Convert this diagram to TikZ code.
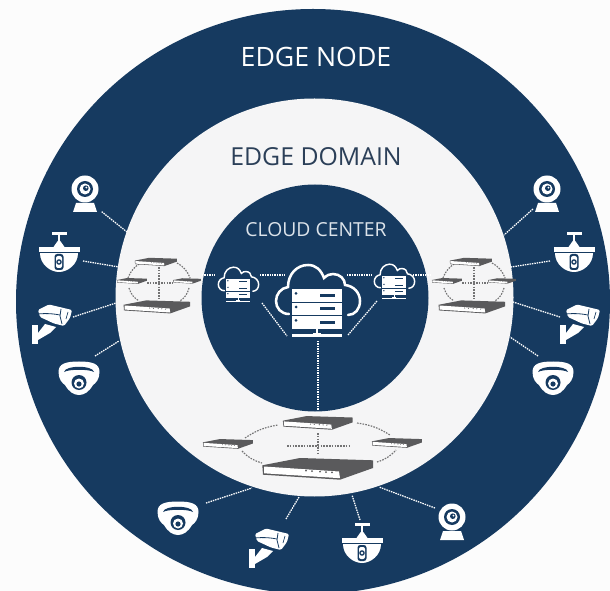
\documentclass[tikz,border=0pt]{standalone}
\usepackage{fontspec}
\setmainfont{Open Sans}
\usepackage{xcolor}
\usepackage{tikz}
\definecolor{navy}{HTML}{163A60}
\definecolor{shell}{HTML}{F5F5F6}
\definecolor{devgray}{HTML}{5A5A5C}
\definecolor{domaintext}{HTML}{2B3F58}
\definecolor{cloudtext}{HTML}{DCE3EA}
\tikzset{
	link/.style={draw=white,line width=0.95pt,dash pattern=on 1.1pt off 0.7pt},
	ringline/.style={draw=devgray!85,line width=0.85pt,dash pattern=on 1.2pt off 0.9pt},
	title/.style={inner sep=0pt},
	pics/webcam/.style={code={
		\fill[white] (0,0) circle [radius=13.5];
		\fill[navy] (0,0) circle [radius=8];
		\fill[white] (0,0) circle [radius=5.5];
		\fill[navy] (0.8,-0.8) circle [radius=2.8];
		\fill[white] (1.4,-1.4) circle [radius=1];
		\fill[white] (-9,14) -- (9,14) -- (12,23) -- (-12,23) -- cycle;
	}},
	pics/domecam/.style={code={
		\fill[white] (-7.5,-18) rectangle (7.5,-15);
		\fill[white] (-1.3,-15) rectangle (1.3,-8);
		\fill[white] (-5.5,-3) -- (-1.3,-9) -- (1.3,-9) -- (5.5,-3) -- cycle;
		\fill[white] (-20.5,-3) rectangle (20.5,2);
		\fill[white] (-19,3.2) .. controls (-19,14) and (-9,22) .. (0,22) .. controls (9,22) and (19,14) .. (19,3.2) -- cycle;
		\fill[navy,rounded corners=2] (-4.5,4) rectangle (4.5,20);
		\fill[white,rounded corners=1.5] (-3,6) rectangle (3,18);
		\fill[navy] (0,12) circle [radius=2.8];
		\fill[white] (0,12) circle [radius=1.4];
	}},
	pics/bulletcam/.style={code={
		\fill[white] (-21,10) rectangle (-15,29);
		\fill[white] (-15,18) -- (-8,9) -- (3,12) -- (-3,18) -- (-15,25) -- cycle;
		\fill[white,rounded corners=1] (-15,-5) -- (-4,-10.5) -- (19,-5) -- (17,3) -- (11,11) -- (1,8.5) -- (-13,2) -- cycle;
		\draw[navy,line width=0.6pt] (-15,-1) .. controls (-6,-2) and (2,-1) .. (7,0);
		\draw[navy,line width=0.6pt] (8,-6) -- (7,1) -- (9,9);
		\draw[navy,line width=0.5pt] (15,-3) -- (13,4);
	}},
	pics/turretcam/.style={code={
		\fill[white] (-20.5,-6) .. controls (-20.5,-14) and (-14,-16.5) .. (0,-16.5) .. controls (14,-16.5) and (20.5,-14) .. (20.5,-6)
			.. controls (20.5,1) and (17,5) .. (14,7) .. controls (10,14) and (5,17) .. (0,17) .. controls (-5,17) and (-10,14) .. (-14,7)
			.. controls (-17,5) and (-20.5,1) .. (-20.5,-6) -- cycle;
		\fill[navy] (-15,-6) .. controls (-14,-13) and (14,-13) .. (15,-6) .. controls (10,-9) and (-10,-9) .. (-15,-6) -- cycle;
		\fill[navy] (0,4.5) circle [radius=7.5];
		\fill[white] (0,5.5) circle [radius=5];
		\fill[navy] (0,6) circle [radius=2.6];
	}},
	pics/recorder/.style={code={
		\fill[devgray] (-55.7,-3.7) -- (-18,-11) -- (55,-8.7) -- (55,-1) -- (22,10.7) -- (-55,5.7) -- cycle;
		\fill[white] (-54,-2.5) -- (21,2.5) -- (22,9.2) -- (-54,4.3) -- cycle;
		\foreach \dotx in {-12,-6,2,8,14}
			\fill[devgray] (\dotx,{2.5+0.066*\dotx}) circle [radius=1];
	}},
	pics/cloudserver/.style={code={
		\draw[white,line width=#1,line cap=round] (-28,14) .. controls (-36,14) and (-41,8) .. (-41,1)
			.. controls (-41,-6) and (-36,-12) .. (-29,-13) .. controls (-29,-26) and (-20,-35) .. (-9,-35)
			.. controls (-1,-35) and (4,-30) .. (7,-22) .. controls (10,-25) and (13,-26) .. (16,-26)
			.. controls (23,-26) and (28,-21) .. (28,-15) .. controls (37,-14) and (43,-7) .. (43,1)
			.. controls (43,9) and (38,15) .. (31,15);
		\fill[navy] (-27,-13) rectangle (27,30);
		\foreach \rowy in {-10.7,3,16.3}{
			\fill[white] (-24.7,\rowy) rectangle (24.7,\rowy+12.3);
			\fill[navy] (-21,\rowy+4) circle [radius=1.5];
			\fill[navy] (3,\rowy+4.5) rectangle (18,\rowy+7.5);
		}
		\fill[white] (-1,28) rectangle (1,35);
		\fill[white] (-25,34.5) rectangle (25,37);
		\fill[white] (-4,33) rectangle (4,37);
	}}
}
\begin{document}
\begin{tikzpicture}[x=0.75pt,y=-0.75pt]
	\useasboundingbox (0,0) rectangle (610,591);
	\clip (0,0) rectangle (610,591);
	\fill[white!99!black] (0,0) rectangle (610,591);

	\fill[navy] (313,301.5) ellipse [x radius=297,y radius=292.5];
	\fill[shell] (314.5,297.5) circle [radius=199];
	\fill[navy] (315,298) circle [radius=113.5];

	\node[title,white] (edgenode) at (316,57) {\fontsize{20}{20}\selectfont EDGE NODE};
	\node[title,domaintext] (edgedomain) at (316,157) {\fontsize{18.6}{18.6}\selectfont EDGE DOMAIN};
	\node[title,cloudtext] (cloudcenter) at (316,230) {\fontsize{14.5}{14.5}\selectfont CLOUD CENTER};

	% dotted links of the cameras and the clouds
	\foreach \linkname/\pa/\pb in {
		lweb/{101.7,211.7}/{127,232}, ldome/{83,261}/{119,267}, lbull/{73,317}/{116,303}, lturr/{95,356}/{119,341},
		rweb/{533,209}/{504,235}, rdome/{550,261}/{511,267}, rbull/{560,317}/{513,302}, rturr/{538,356}/{510,337},
		bturr/{206,503}/{252,488}, bbull/{286,519}/{299,497}, bdome/{360,520}/{352,495}, bweb/{435,508}/{379,487},
		cla/{202,275}/{216,275}, clb/{260,275}/{285,275}, cra/{347,275}/{372,275}, crb/{413,275}/{430,275},
		dla/{262,303}/{287,336}, dra/{377,301}/{348,335}, cdown/{318,341}/{318,410}}{
		\coordinate (\linkname a) at (\pa);
		\coordinate (\linkname b) at (\pb);
		\draw[link] (\linkname a) -- (\linkname b);
	}

	\pic (cloudmain) at (317,300) {cloudserver=1.9pt};
	\pic[scale=0.48] (cloudleft) at (238,284) {cloudserver=1.1pt};
	\pic[scale=0.48] (cloudright) at (394,281) {cloudserver=1.1pt};

	% side groups
	\foreach \groupname/\gx in {grpleft/159,grpright/474}{
		\coordinate (\groupname tla) at (\gx-31,278);
		\coordinate (\groupname tlb) at (\gx-18,263);
		\coordinate (\groupname tra) at (\gx+18,263);
		\coordinate (\groupname trb) at (\gx+31,278);
		\coordinate (\groupname bla) at (\gx-30,288);
		\coordinate (\groupname blb) at (\gx-20,301);
		\coordinate (\groupname bra) at (\gx+30,288);
		\coordinate (\groupname brb) at (\gx+21,301);
		\draw[ringline] (\groupname tla) to[bend left=20] (\groupname tlb);
		\draw[ringline] (\groupname tra) to[bend left=20] (\groupname trb);
		\draw[ringline] (\groupname bla) to[bend right=20] (\groupname blb);
		\draw[ringline] (\groupname bra) to[bend left=20] (\groupname brb);
		\coordinate (\groupname ha) at (\gx-12,283);
		\coordinate (\groupname hb) at (\gx+14,283);
		\coordinate (\groupname va) at (\gx,267);
		\coordinate (\groupname vb) at (\gx,298);
		\draw[ringline] (\groupname ha) -- (\groupname hb);
		\draw[ringline] (\groupname va) -- (\groupname vb);
		\pic[scale=0.38] at (\gx-3,262) {recorder};
		\pic[scale=0.27] at (\gx-27,281) {recorder};
		\pic[scale=0.25] at (\gx+28,281) {recorder};
		\pic[scale=0.6] at (\gx-2,307) {recorder};
	}

	% bottom group
	\coordinate (botla) at (245,438); \coordinate (botlb) at (278,425);
	\coordinate (botra) at (357,423); \coordinate (botrb) at (390,435);
	\coordinate (botlc) at (242,451); \coordinate (botld) at (262,463);
	\coordinate (botrc) at (377,462); \coordinate (botrd) at (396,450);
	\coordinate (botha) at (287,446); \coordinate (bothb) at (350,446);
	\coordinate (botva) at (318,433); \coordinate (botvb) at (318,455);
	\draw[ringline] (botla) to[bend left=12] (botlb);
	\draw[ringline] (botra) to[bend left=12] (botrb);
	\draw[ringline] (botlc) to[bend right=15] (botld);
	\draw[ringline] (botrc) to[bend right=15] (botrd);
	\draw[ringline] (botha) -- (bothb);
	\draw[ringline] (botva) -- (botvb);
	\pic[scale=0.63] (bottop) at (318,423) {recorder};
	\pic[scale=0.45] (botleft) at (228,444) {recorder};
	\pic[scale=0.45] (botright) at (397,443) {recorder};
	\pic (botmain) at (318,469) {recorder};

	% cameras
	\pic (lwebcam) at (85,189) {webcam};
	\pic (ldome) at (59,250) {domecam};
	\pic (lbullet) at (53,315) {bulletcam};
	\pic (lturret) at (79,378) {turretcam};
	\pic (rwebcam) at (547,189) {webcam};
	\pic (rdome) at (574,250) {domecam};
	\pic (rbullet) at (581,315) {bulletcam};
	\pic (rturret) at (553,378) {turretcam};
	\pic (bturret) at (178,518) {turretcam};
	\pic (bbullet) at (270,539) {bulletcam};
	\pic (bdome) at (362,541) {domecam};
	\pic (bwebcam) at (452,517) {webcam};
\end{tikzpicture}
\end{document}
